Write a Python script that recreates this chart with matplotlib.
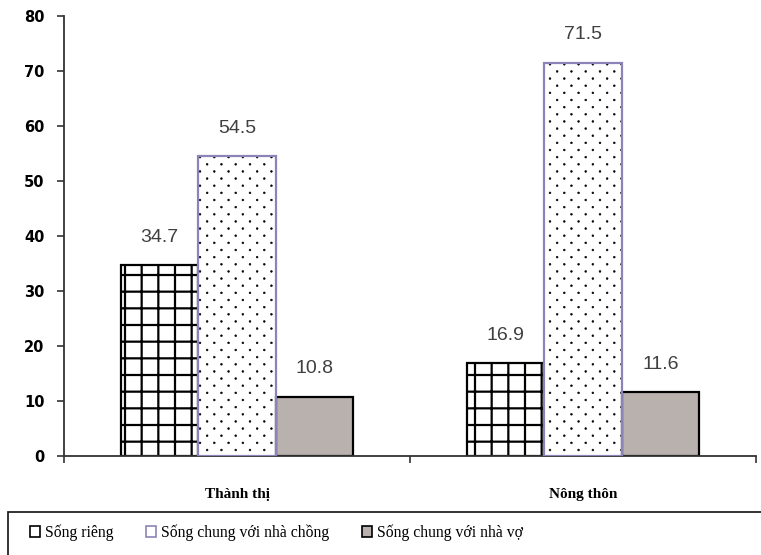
import matplotlib
matplotlib.use("Agg")
import matplotlib.pyplot as plt
import matplotlib.hatch as mhatch
from matplotlib.path import Path
from matplotlib.patches import Patch, Rectangle
import numpy as np

categories = ["Thành thị", "Nông thôn"]
series_names = ["Sống riêng", "Sống chung với nhà chồng", "Sống chung với nhà vợ"]
song_rieng = [34.7, 16.9]
song_chung_nha_chong = [54.5, 71.5]
song_chung_nha_vo = [10.8, 11.6]
y_ticks = [0, 10, 20, 30, 40, 50, 60, 70, 80]


# sparse staggered dot pattern (replaces matplotlib's '.' hatch)
class StaggeredDots(mhatch.HatchPatternBase):
    ncols = 7
    nrows = 14
    radius = 0.009

    def __init__(self, hatch, density):
        self.on = hatch.count('.') > 0
        circ = Path.unit_circle()
        self.shape_vertices = circ.vertices
        self.shape_codes = circ.codes
        if self.on:
            self.num_shapes = sum((self.ncols + 1) if r % 2 == 0 else self.ncols
                                  for r in range(self.nrows + 1))
            self.num_vertices = self.num_shapes * len(self.shape_vertices)
        else:
            self.num_shapes = 0
            self.num_vertices = 0

    def set_vertices_and_codes(self, vertices, codes):
        sv = self.shape_vertices * self.radius
        vparts, cparts = [], []
        for r in range(self.nrows + 1):
            y = r / self.nrows
            if r % 2 == 0:
                xs = np.linspace(0, 1, self.ncols + 1)
            else:
                xs = (np.arange(self.ncols) + 0.5) / self.ncols
            for xx in xs:
                vparts.append(sv + [xx, y])
                cparts.append(self.shape_codes)
        np.concatenate(vparts, out=vertices)
        np.concatenate(cparts, out=codes)


mhatch._hatch_types = [h for h in mhatch._hatch_types
                       if h is not mhatch.SmallFilledCircles] + [StaggeredDots]

plt.rcParams['hatch.linewidth'] = 1.6

fig = plt.figure(figsize=(7.61, 5.55), dpi=100)
ax = fig.add_axes([64/761, 1-456/555, (756-64)/761, (456-16)/555])

x = np.arange(len(categories))
w = 0.224
purple = "#8c84b8"
gray = "#b9b1ad"

b1 = ax.bar(x - w, song_rieng, w, facecolor="white", edgecolor="black",
            hatch="+", linewidth=1.6, zorder=2)
with plt.rc_context({'hatch.linewidth': 0.4}):
    b2h = ax.bar(x, song_chung_nha_chong, w, facecolor="white", edgecolor="black",
                 hatch=".", linewidth=0, zorder=2)
b2 = ax.bar(x, song_chung_nha_chong, w, fill=False, edgecolor=purple,
            linewidth=1.6, zorder=3)
b3 = ax.bar(x + w, song_chung_nha_vo, w, facecolor=gray, edgecolor="black",
            linewidth=1.6, zorder=2)

for offs, vals in [(-w, song_rieng), (0, song_chung_nha_chong), (w, song_chung_nha_vo)]:
    for xi, v in zip(x, vals):
        ax.annotate(f"{v}", (xi + offs, v), xytext=(0, 20), textcoords="offset points",
                    ha="center", va="center", fontsize=14, color="#404040",
                    family="Liberation Sans")

ax.set_xlim(-0.5, 1.5)
ax.set_ylim(0, 80)
ax.set_yticks(y_ticks)
ax.set_yticklabels([str(t) for t in y_ticks], fontsize=10.5, fontweight="bold",
                   family="DejaVu Sans")
ax.set_xticks(x)
ax.set_xticklabels(categories, fontsize=11, fontweight="bold", family="Liberation Serif")
ax.set_xticks([-0.5, 0.5, 1.5], minor=True)
ax.tick_params(axis="x", which="major", length=0, pad=23)
ax.tick_params(axis="x", which="minor", length=5, width=1.2, direction="out", color="#333333")
ax.tick_params(axis="y", length=5, width=1.2, direction="out", pad=9, color="#333333")

for s in ["top", "right"]:
    ax.spines[s].set_visible(False)
for s in ["left", "bottom"]:
    ax.spines[s].set_linewidth(1.3)
    ax.spines[s].set_color("#333333")

# legend frame
fig.patches.append(Rectangle((8/761, -0.1), 1.0, 0.1 + (1 - 512/555), transform=fig.transFigure,
                             fill=False, edgecolor="#222222", linewidth=1.3))

handles = [
    Patch(facecolor="white", edgecolor="black", hatch="|", linewidth=1.2),
    Patch(facecolor="white", edgecolor=purple, linewidth=1.2),
    Patch(facecolor=gray, edgecolor="black", linewidth=1.2),
]
leg = fig.legend(handles, series_names, loc="center left",
                 bbox_to_anchor=(22/761, 1 - 533/555), ncol=3, frameon=False,
                 prop={"family": "Liberation Serif", "size": 11.3},
                 handlelength=0.65, handleheight=0.65, handletextpad=0.3,
                 columnspacing=2.1, borderpad=0)

fig.savefig("out.png", dpi=100)
